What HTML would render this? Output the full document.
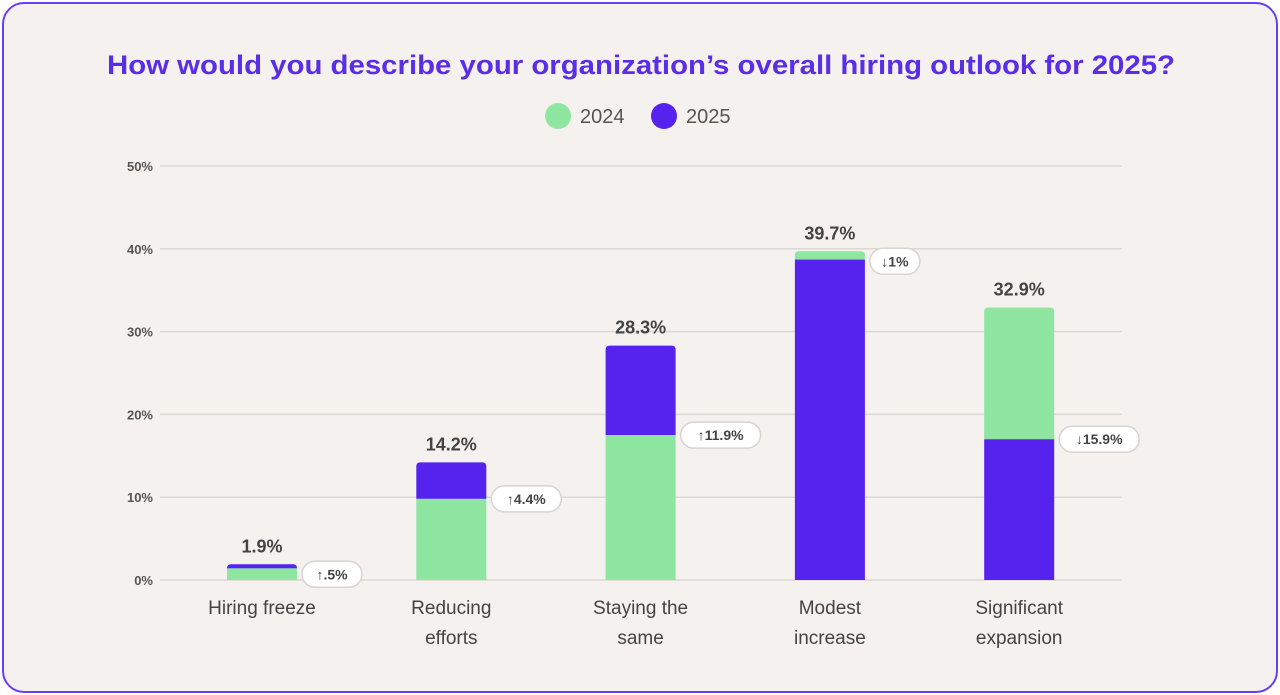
<!DOCTYPE html>
<html><head><meta charset="utf-8"><style>
body{margin:0;background:#fff;}
#wrap{position:absolute;left:2px;top:2px;width:1272px;height:687px;border:2px solid #6b3ff0;border-radius:22px;background:#f4f1ee;overflow:hidden;}
svg{position:absolute;left:0;top:0;}
text{font-family:"Liberation Sans","DejaVu Sans",sans-serif;}
</style></head><body>
<div id="wrap"></div>
<svg id="chart" width="1280" height="695"></svg>
<script>
const categories=[["Hiring freeze"],["Reducing","efforts"],["Staying the","same"],["Modest","increase"],["Significant","expansion"]];
const totals=[1.9,14.2,28.3,39.7,32.9];
const bottomVals=[1.4,9.8,17.5,38.7,17.0];
const bottomIs2025=[false,false,false,true,true];
const changeLabels=["↑.5%","↑4.4%","↑11.9%","↓1%","↓15.9%"];
const yTicks=[0,10,20,30,40,50];
const legendLabels=["2024","2025"];
const G="#8ee6a0",P="#5522ee";
const svg=document.getElementById('chart');
const NS="http://www.w3.org/2000/svg";
function el(t,a,p){const e=document.createElementNS(NS,t);for(const k in a)e.setAttribute(k,a[k]);(p||svg).appendChild(e);return e;}
const y0=580,pxPer=8.28;
const y=v=>y0-v*pxPer;
const x=i=>262+i*189.3;
const bw=70;
let t=el('text',{x:107,y:74,'font-size':27,'font-weight':'bold',fill:'#5a2ee6',textLength:1068,lengthAdjust:'spacingAndGlyphs'});
t.textContent="How would you describe your organization’s overall hiring outlook for 2025?";


legendLabels.forEach((l,i)=>{
 const cx=558+i*106;
 const c=el('circle',{cx:cx,cy:116,r:13,fill:i?P:G});
 
 
 const tt=el('text',{x:cx+22,y:123,'font-size':20,fill:'#555'});tt.textContent=l;
 
 
});
yTicks.forEach(v=>{
 const ln=el('line',{x1:160,x2:1122,y1:y(v),y2:y(v),stroke:'#dcd8d4','stroke-width':1.5});
 
 
 const tt=el('text',{x:153,y:y(v)+5,'text-anchor':'end','font-size':13,'font-weight':'bold',fill:'#555'});tt.textContent=v+"%";
 
 
});
categories.forEach((c,i)=>{
 const cx=x(i),lx=cx-bw/2;
 const topC=bottomIs2025[i]?G:P,botC=bottomIs2025[i]?P:G;
 const top=el('path',{d:`M${lx},${y(bottomVals[i])} V${y(totals[i])+4} Q${lx},${y(totals[i])} ${lx+4},${y(totals[i])} H${lx+bw-4} Q${lx+bw},${y(totals[i])} ${lx+bw},${y(totals[i])+4} V${y(bottomVals[i])} Z`,fill:topC});
 
 
 const b=el('rect',{x:lx,y:y(bottomVals[i]),width:bw,height:y0-y(bottomVals[i]),fill:botC});
 
 
 const tv=el('text',{x:cx,y:y(totals[i])-12,'text-anchor':'middle','font-size':18,'font-weight':'bold',fill:'#444'});tv.textContent=totals[i]+"%";
 
 
 const py=Math.max(y(bottomVals[i]),y(totals[i])+10);
 const w=changeLabels[i].length*10+20;
 const pill=el('rect',{x:lx+bw+5,y:py-13,width:w,height:26,rx:13,fill:'#fff',stroke:'#d8d4d0','stroke-width':1.5});
 
 
 const pt=el('text',{x:lx+bw+5+w/2,y:py+5,'text-anchor':'middle','font-size':14,'font-weight':'bold',fill:'#444'});pt.textContent=changeLabels[i];
 
 
 c.forEach((line,j)=>{
  const ct=el('text',{x:cx,y:614+j*30,'text-anchor':'middle','font-size':19,fill:'#444'});ct.textContent=line;
  
  
 });
});
</script>
</body></html>
